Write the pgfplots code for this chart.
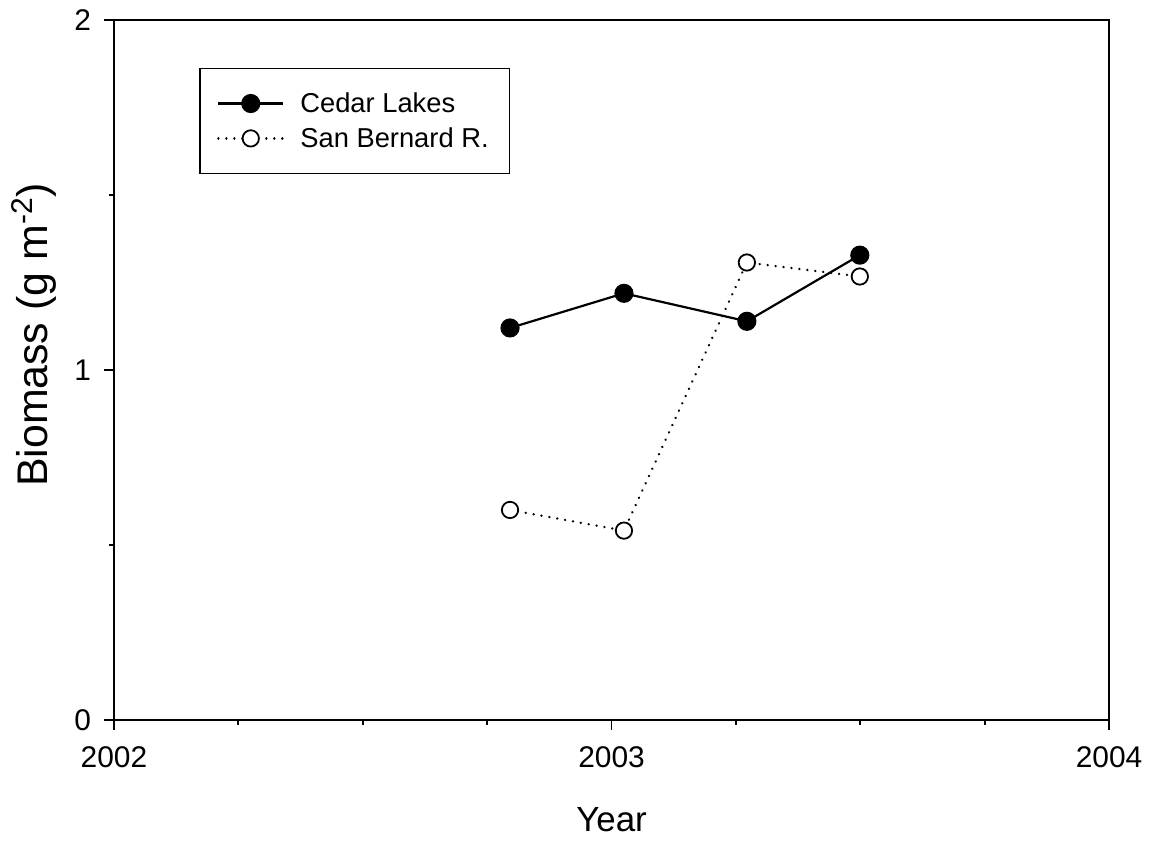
\documentclass[border=0pt]{standalone}
\usepackage{fontspec}
\setmainfont{Liberation Sans}
\usepackage{pgfplots}
\pgfplotsset{compat=1.18}
\begin{document}
\begin{tikzpicture}
\begin{axis}[
  scale only axis,
  width=499.2pt, height=351.15pt,
  xmin=2002, xmax=2004, ymin=0, ymax=2,
  xtick={2002,2003,2004}, ytick={0,1,2},
  minor xtick={2002.25,2002.5,2002.75,2003.25,2003.5,2003.75},
  minor ytick={0.5,1.5},
  tick pos=left, tick align=outside,
  major tick length=5pt, minor tick length=2.5pt,
  every tick/.style={black, line width=0.9pt},
  axis line style={line width=0.9pt},
  /pgf/number format/1000 sep={},
  /pgf/number format/assume math mode=true,
  ticklabel style={font=\fontsize{15}{18}\selectfont},
  xticklabel style={yshift=-5pt},
  yticklabel style={xshift=-3pt},
  xlabel={Year},
  ylabel={Biomass (g m\textsuperscript{-2})},
  xlabel style={font=\fontsize{17.5}{20}\selectfont, at={(axis description cs:0.5,-0.1424)}, anchor=center},
  ylabel style={font=\fontsize{21.5}{24}\selectfont, at={(axis description cs:-0.080,0.55)}, anchor=center},
  clip=false,
  legend cell align=left,
  legend style={at={(rel axis cs:0.0858,0.932)}, anchor=north west, draw=black, line width=0.8pt,
    font=\fontsize{13.7}{16}\selectfont, inner xsep=8.5pt, inner ysep=8.9pt, row sep=0pt, column sep=6pt,
    nodes={text height=11pt, text depth=2pt, inner ysep=2.25pt}},
  legend image code/.code={\draw[mark repeat=2,mark phase=2,#1] plot coordinates {(0pt,0pt) (16.25pt,0pt) (32.5pt,0pt)};},
]
\addplot[black, line width=1.1pt, mark=*, mark size=4.25pt, mark options={solid, fill=black}]
  coordinates {(2002.796,1.120) (2003.025,1.219) (2003.272,1.139) (2003.499,1.328)};
\addlegendentry{Cedar Lakes}
\addplot[black, line width=1.3pt, dash pattern=on 0.01pt off 4pt, line cap=round, mark=*, mark size=4.1pt, mark options={solid, draw=black, fill=white, line width=0.9pt}]
  coordinates {(2002.796,0.600) (2003.025,0.541) (2003.272,1.307) (2003.499,1.267)};
\addlegendentry{San Bernard R.}
\path (rel axis cs:-0.1145,-0.1733) rectangle (rel axis cs:1.0364,1.0285);
\end{axis}
\end{tikzpicture}
\end{document}
